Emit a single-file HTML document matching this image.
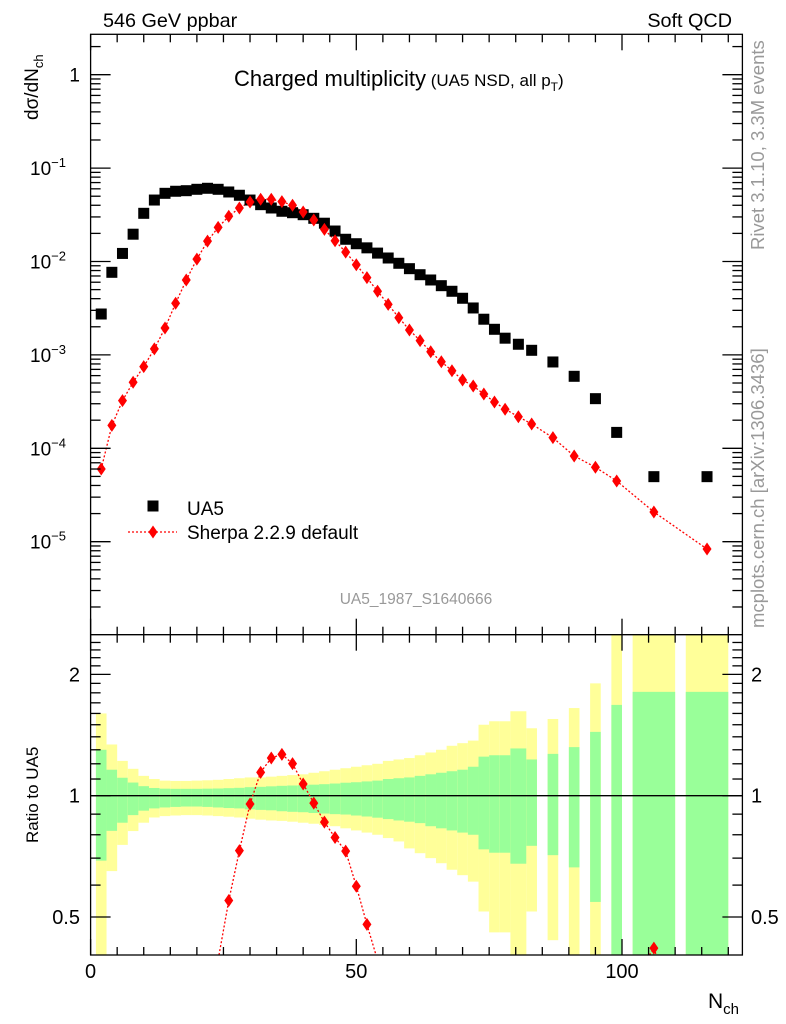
<!DOCTYPE html>
<html><head><meta charset="utf-8"><style>
html,body{margin:0;background:#fff;width:786px;height:1024px;overflow:hidden;}
svg{display:block;font-family:"Liberation Sans",sans-serif;}
</style></head><body>
<div style="position:relative;width:786px;height:1024px;overflow:hidden">
<svg id="c" width="786" height="1024" viewBox="0 0 786 1024" style="position:absolute;left:0;top:0"></svg>
<svg width="786" height="1024" style="position:absolute;left:0;top:0;font-family:'Liberation Sans',sans-serif">
<text x="103" y="27" font-size="19.8">546 GeV ppbar</text>
<text x="732" y="27" font-size="19.8" text-anchor="end">Soft QCD</text>
<text x="234" y="86" font-size="22">Charged multiplicity<tspan font-size="17"> (UA5 NSD, all p</tspan><tspan font-size="12" dy="5">T</tspan><tspan font-size="17" dy="-5">)</tspan></text>
<text transform="translate(38,120) rotate(-90)" font-size="19">dσ/dN<tspan font-size="13" dy="5">ch</tspan></text>
<text transform="translate(38,843) rotate(-90)" font-size="17">Ratio to UA5</text>
<text x="708" y="1008" font-size="21">N<tspan font-size="15" dy="6">ch</tspan></text>
<rect x="147.5" y="500.5" width="11" height="11" fill="#000"/>
<text x="187" y="515" font-size="19">UA5</text>
<line x1="128" x2="177" y1="532" y2="532" stroke="#f00" stroke-width="1.3" stroke-dasharray="2,2"/>
<path d="M153,525.5L157.5,532L153,538.5L148.5,532Z" fill="#f00"/>
<text x="187" y="539" font-size="19">Sherpa 2.2.9 default</text>
<text x="416" y="604" font-size="15.5" fill="#999" text-anchor="middle">UA5_1987_S1640666</text>
<text transform="translate(764,250) rotate(-90)" font-size="18.5" fill="#999">Rivet 3.1.10,  3.3M events</text>
<text transform="translate(764,628) rotate(-90)" font-size="18.5" fill="#999">mcplots.cern.ch [arXiv:1306.3436]</text>
</svg></div>
<script>
// ---- data ----
const uaN=[2,4,6,8,10,12,14,16,18,20,22,24,26,28,30,32,34,36,38,40,42,44,46,48,50,52,54,56,58,60,62,64,66,68,70,72,74,76,78,80.5,83,87,91,95,99,106,116];
const binLo=[1,3,5,7,9,11,13,15,17,19,21,23,25,27,29,31,33,35,37,39,41,43,45,47,49,51,53,55,57,59,61,63,65,67,69,71,73,75,77,79,82,86,90,94,98,102,112];
const binHi=[3,5,7,9,11,13,15,17,19,21,23,25,27,29,31,33,35,37,39,41,43,45,47,49,51,53,55,57,59,61,63,65,67,69,71,73,75,77,79,82,84,88,92,96,100,110,120];
const ua5=[2.74e-3,7.66e-3,1.22e-2,1.96e-2,3.28e-2,4.55e-2,5.37e-2,5.65e-2,5.73e-2,5.93e-2,6.08e-2,5.93e-2,5.55e-2,5.12e-2,4.55e-2,4.06e-2,3.74e-2,3.45e-2,3.33e-2,3.17e-2,2.90e-2,2.57e-2,2.12e-2,1.73e-2,1.55e-2,1.40e-2,1.23e-2,1.09e-2,9.57e-3,8.38e-3,7.22e-3,6.34e-3,5.51e-3,4.80e-3,4.04e-3,3.18e-3,2.41e-3,1.88e-3,1.51e-3,1.30e-3,1.12e-3,8.4e-4,5.9e-4,3.40e-4,1.48e-4,4.97e-5,4.97e-5];
const sherpa=[6.0e-5,1.76e-4,3.24e-4,5.09e-4,7.48e-4,1.16e-3,1.94e-3,3.57e-3,6.34e-3,1.06e-2,1.65e-2,2.32e-2,3.05e-2,3.74e-2,4.34e-2,4.64e-2,4.64e-2,4.37e-2,4.00e-2,3.39e-2,2.78e-2,2.21e-2,1.67e-2,1.26e-2,9.24e-3,6.71e-3,4.80e-3,3.48e-3,2.50e-3,1.85e-3,1.42e-3,1.08e-3,8.45e-4,6.77e-4,5.38e-4,4.65e-4,3.81e-4,3.13e-4,2.62e-4,2.18e-4,1.82e-4,1.30e-4,8.27e-5,6.27e-5,4.47e-5,2.08e-5,8.36e-6];
const statUp=[1.30,1.16,1.108,1.078,1.056,1.045,1.041,1.040,1.040,1.040,1.041,1.042,1.044,1.046,1.05,1.052,1.055,1.058,1.06,1.062,1.065,1.068,1.072,1.077,1.08,1.085,1.09,1.10,1.105,1.11,1.12,1.13,1.14,1.15,1.16,1.18,1.25,1.26,1.26,1.31,1.23,1.27,1.32,1.44,1.68,1.81,1.81];
const statDn=[0.69,0.818,0.857,0.895,0.918,0.93,0.935,0.938,0.94,0.94,0.938,0.935,0.932,0.93,0.925,0.922,0.92,0.915,0.912,0.91,0.906,0.903,0.90,0.898,0.893,0.888,0.882,0.875,0.868,0.862,0.855,0.84,0.83,0.82,0.81,0.80,0.736,0.722,0.722,0.678,0.751,0.712,0.664,0.545,0.3,0.3,0.3];
const totUp=[1.60,1.34,1.22,1.166,1.12,1.10,1.09,1.088,1.088,1.09,1.092,1.095,1.10,1.105,1.11,1.11,1.115,1.12,1.125,1.13,1.14,1.15,1.16,1.17,1.18,1.19,1.20,1.22,1.23,1.24,1.26,1.28,1.30,1.33,1.35,1.37,1.50,1.53,1.53,1.62,1.47,1.55,1.65,1.90,3,3,3];
const totDn=[0.35,0.65,0.755,0.817,0.857,0.883,0.89,0.893,0.895,0.895,0.893,0.89,0.887,0.883,0.877,0.872,0.868,0.866,0.862,0.857,0.852,0.846,0.84,0.83,0.82,0.81,0.80,0.785,0.77,0.74,0.72,0.70,0.68,0.655,0.635,0.612,0.516,0.458,0.458,0.3,0.516,0.438,0.3,0.3,0.3,0.3,0.3];
const xTicks=[0,50,100];
const yDecades=[0,-1,-2,-3,-4,-5];
const rTicks=[2,1,0.5];

// ---- geometry ----
const L=90.6,R=742.4,T=34.3,M=634.7,B=955;
const NS="http://www.w3.org/2000/svg";
const svg=document.getElementById('c');
const X=n=>L+n*5.314;
const Y=v=>261.5-(Math.log10(v)+2)*93.4;
const RY=r=>795.7-Math.log10(r)*403;
function el(tag,attrs,parent){const e=document.createElementNS(NS,tag);for(const k in attrs)e.setAttribute(k,attrs[k]);(parent||svg).appendChild(e);return e;}
function txt(s,attrs,parent){const e=el('text',attrs,parent);e.textContent=s;return e;}
const clampY=(y,lo,hi)=>Math.max(lo,Math.min(hi,y));

// ---- ratio bands ----
const gR=el('g',{});


for(let i=0;i<binLo.length;i++){
  const x=X(binLo[i]),w=X(binHi[i])-X(binLo[i]);
  const ty=clampY(RY(totUp[i]),M,B),by=clampY(RY(totDn[i]),M,B);
  const y1=el('rect',{x:x,y:ty,width:w,height:by-ty,fill:'#ffff99'},gR);
  
  
  const gy=clampY(RY(statUp[i]),M,B),gb=clampY(RY(statDn[i]),M,B);
  const g1=el('rect',{x:x,y:gy,width:w,height:gb-gy,fill:'#99ff99'},gR);
  
  
}
el('line',{x1:L,x2:R,y1:RY(1),y2:RY(1),stroke:'#000','stroke-width':1.3},gR);

// clipped ratio line (segments clipped to panel)
let rp='';
for(let i=0;i<uaN.length-1;i++){
  let x1=X(uaN[i]),y1=RY(sherpa[i]/ua5[i]),x2=X(uaN[i+1]),y2=RY(sherpa[i+1]/ua5[i+1]);
  if((y1>B&&y2>B)||(y1<M&&y2<M))continue;
  const cut=(xa,ya,xb,yb)=>{let yy=ya>B?B:(ya<M?M:ya);if(yy!==ya){const t=(yy-ya)/(yb-ya);return [xa+(xb-xa)*t,yy];}return [xa,ya];};
  const p1=cut(x1,y1,x2,y2),p2=cut(x2,y2,x1,y1);
  rp+='M'+p1[0].toFixed(1)+','+p1[1].toFixed(1)+'L'+p2[0].toFixed(1)+','+p2[1].toFixed(1);
}
const rl=el('path',{d:rp,fill:'none',stroke:'#f00','stroke-width':1.3,'stroke-dasharray':'2,2'},gR);


function diamond(x,y,parent,name){const d=el('path',{d:`M${x},${y-6.5}L${x+4.5},${y}L${x},${y+6.5}L${x-4.5},${y}Z`,fill:'#f00'},parent);return d;}
for(let i=0;i<uaN.length;i++){const r=sherpa[i]/ua5[i];if(r>0.4&&r<2.5)diamond(X(uaN[i]),RY(r),gR,'ratio-sherpa-point');}

// ---- main panel ----
const gM=el('g',{});


let mp='';
for(let i=0;i<uaN.length;i++){mp+=(i?'L':'M')+X(uaN[i]).toFixed(1)+','+Y(sherpa[i]).toFixed(1);}
const ml=el('path',{d:mp,fill:'none',stroke:'#f00','stroke-width':1.3,'stroke-dasharray':'2,2'},gM);


for(let i=0;i<uaN.length;i++){
  const s=el('rect',{x:X(uaN[i])-5.5,y:Y(ua5[i])-5.5,width:11,height:11,fill:'#000'},gM);
  
  
}
for(let i=0;i<uaN.length;i++)diamond(X(uaN[i]),Y(sherpa[i]),gM,'sherpa-point');

// ---- frames & ticks ----
const ax=el('g',{stroke:'#000','stroke-width':1.3,fill:'none'});


el('rect',{x:L,y:T,width:R-L,height:B-T},ax);
el('line',{x1:L,x2:R,y1:M,y2:M},ax);
for(let n=0;n<=120;n+=5){
  const sz=n%50===0?16:8;
  [[T,1],[M,-1],[M,1],[B,-1]].forEach(([y,d])=>el('line',{x1:X(n),x2:X(n),y1:y,y2:y+d*sz},ax));
}
for(let d=1;d>=-6;d--){
  for(let m=1;m<10;m++){
    const y=Y(Math.pow(10,d)*m);if(y<T||y>M)continue;
    const len=m===1?20:10;
    el('line',{x1:L,x2:L+len,y1:y,y2:y},ax);el('line',{x1:R,x2:R-len,y1:y,y2:y},ax);
  }
}
for(let r=0.4;r<=2.5;r+=0.1){
  const y=RY(r);if(y<M||y>B)continue;
  const maj=[0.5,1,2].some(v=>Math.abs(v-r)<1e-6);const len=maj?20:10;
  el('line',{x1:L,x2:L+len,y1:y,y2:y},ax);el('line',{x1:R,x2:R-len,y1:y,y2:y},ax);
}

// ---- labels ----
xTicks.forEach(v=>{const t=txt(String(v),{x:X(v),y:978,'font-size':20,'text-anchor':'middle'});});
yDecades.forEach(d=>{
  const y=Y(Math.pow(10,d));
  const t=el('text',{x:80,y:y+7,'font-size':19,'text-anchor':'end'});
  
  
  if(d===0){t.textContent='1';}
  else{t.textContent='10';const s=el('tspan',{dy:-8,'font-size':13},t);s.textContent=String(d).replace('-','\u2212');t.setAttribute('x',66);}
});
rTicks.forEach(r=>{
  const y=RY(r)+7;
  const t1=txt(String(r),{x:80,y:y,'font-size':20,'text-anchor':'end'});
  const t2=txt(String(r),{x:751,y:y,'font-size':20});
});
</script>
</body></html>
